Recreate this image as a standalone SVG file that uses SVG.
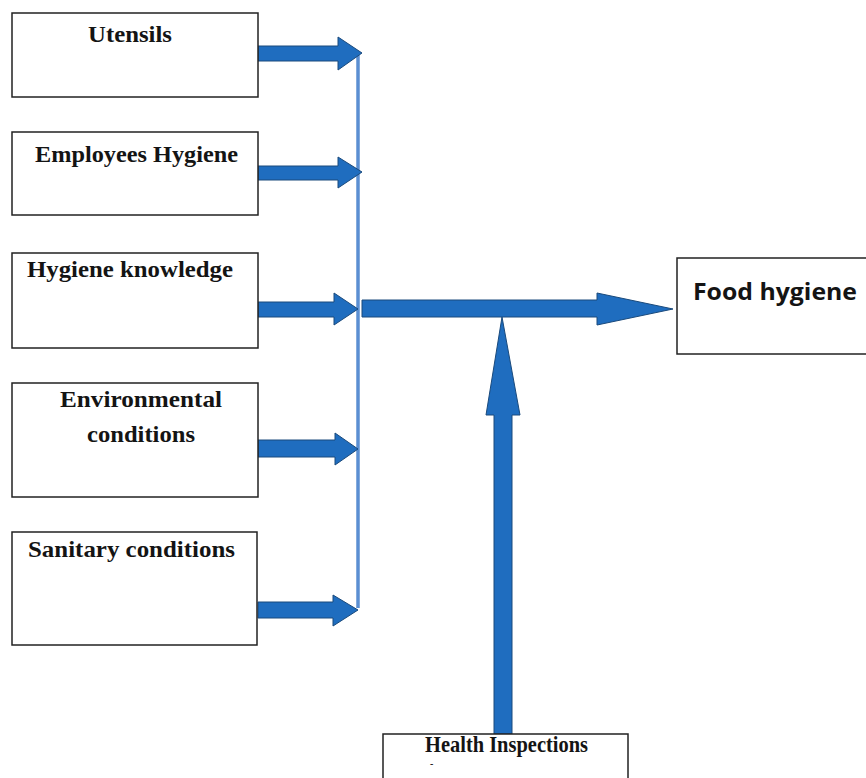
<svg xmlns="http://www.w3.org/2000/svg" width="866" height="778" viewBox="0 0 866 778">
<style>
.box{fill:#fff;stroke:#222;stroke-width:1.5}
.arr{fill:#1f6dbf;stroke:#1a4a7c;stroke-width:1}
.bus{fill:none;stroke:#5b8fd2;stroke-width:3.5}
.t{font-family:"Liberation Serif","Times New Roman",serif;font-weight:bold;font-size:23px;fill:#141414}
.s{font-family:"Open Sans","Liberation Sans",Arial,sans-serif;font-weight:bold;font-size:23px;fill:#141414}
</style>
<rect width="866" height="778" fill="#fff"/>
<g id="connectors">
<line class="bus" x1="358" y1="55" x2="358" y2="608"/>
<polygon class="arr" points="258,46 338,46 338,37 362,53 338,70 338,61 258,61"/>
<polygon class="arr" points="258,166 338,166 338,157 362,172 338,188 338,180 258,180"/>
<polygon class="arr" points="258,302 334,302 334,293 358,309 334,325 334,317 258,317"/>
<polygon class="arr" points="258,440 335,440 335,433 358,449 335,465 335,457 258,457"/>
<polygon class="arr" points="258,602 333,602 333,595 358,610 333,626 333,618 258,618"/>
<polygon class="arr" points="362,300 597,300 597,293 673,309 597,325 597,317 362,317"/>
<polygon class="arr" points="494,734 494,415 486,415 502,317 520,415 512,415 512,734"/>
</g>
<g id="utensils">
<rect class="box" x="12" y="13" width="246" height="84"/>
<text class="t" x="88" y="42" textLength="84" lengthAdjust="spacingAndGlyphs">Utensils</text>
</g>
<g id="employees-hygiene">
<rect class="box" x="12" y="132" width="246" height="83"/>
<text class="t" x="35" y="162" textLength="203" lengthAdjust="spacingAndGlyphs">Employees Hygiene</text>
</g>
<g id="hygiene-knowledge">
<rect class="box" x="12" y="253" width="246" height="95"/>
<text class="t" x="27" y="277" textLength="206" lengthAdjust="spacingAndGlyphs">Hygiene knowledge</text>
</g>
<g id="environmental-conditions">
<rect class="box" x="12" y="383" width="246" height="114"/>
<text class="t" x="60" y="407" textLength="162" lengthAdjust="spacingAndGlyphs">Environmental</text>
<text class="t" x="87" y="442" textLength="108" lengthAdjust="spacingAndGlyphs">conditions</text>
</g>
<g id="sanitary-conditions">
<rect class="box" x="12" y="532" width="245" height="113"/>
<text class="t" x="28" y="557" textLength="207" lengthAdjust="spacingAndGlyphs">Sanitary conditions</text>
</g>
<g id="food-hygiene">
<rect class="box" x="677" y="258" width="195" height="96"/>
<text class="s" x="693" y="300" textLength="164" lengthAdjust="spacingAndGlyphs">Food hygiene</text>
</g>
<g id="health-inspections">
<rect class="box" x="383" y="734" width="245" height="60"/>
<text class="t" x="425" y="752" font-size="19" textLength="163" lengthAdjust="spacingAndGlyphs">Health Inspections</text>
<text class="t" x="430" y="767" style="font-size:10px">-</text>
</g>
</svg>
